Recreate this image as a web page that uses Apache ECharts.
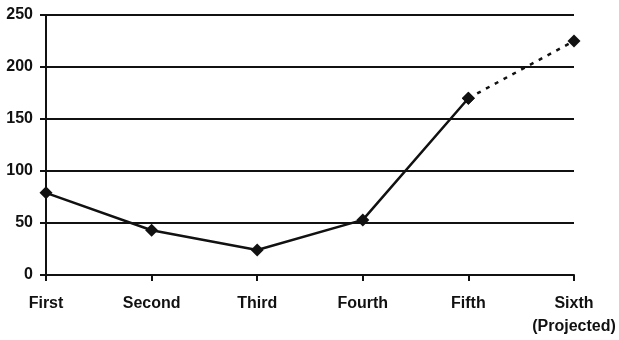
<!DOCTYPE html>
<html><head><meta charset="utf-8">
<script src="https://cdn.jsdelivr.net/npm/echarts@6/dist/echarts.min.js"></script>
<style>html,body{margin:0;padding:0;background:#fff}#c{width:619px;height:340px}</style>
</head><body><div id="c"></div>
<script>
const categories = ['First', 'Second', 'Third', 'Fourth', 'Fifth', 'Sixth\n(Projected)'];
const actualValues = [79, 43, 24, 53, 170, null];
const projectedValues = [null, null, null, null, 170, 225];
const yTicks = [0, 50, 100, 150, 200, 250];

const chart = echarts.init(document.getElementById('c'));
const font = {fontFamily: 'Liberation Sans', fontWeight: 'bold', fontSize: 16, color: '#111'};
chart.setOption({
  animation: false,
  grid: {left: 46, right: 45, top: 15, bottom: 65, containLabel: false},
  xAxis: {
    type: 'category', data: categories, boundaryGap: false,
    axisLine: {lineStyle: {color: '#111', width: 2}},
    axisTick: {show: true, length: 6, lineStyle: {color: '#111', width: 2}, alignWithLabel: true},
    axisLabel: Object.assign({margin: 17, lineHeight: 23, interval: 0}, font),
    splitLine: {show: false}
  },
  yAxis: {
    type: 'value', min: yTicks[0], max: yTicks[yTicks.length - 1], interval: 50,
    axisLine: {show: true, lineStyle: {color: '#111', width: 2}},
    axisTick: {show: true, length: 6, lineStyle: {color: '#111', width: 2}},
    axisLabel: Object.assign({margin: 13}, font),
    splitLine: {show: true, lineStyle: {color: '#111', width: 2}}
  },
  series: [
    {type: 'line', data: actualValues, symbol: 'diamond', symbolSize: 13,
     lineStyle: {color: '#111', width: 2.5}, itemStyle: {color: '#111'}, connectNulls: false},
    {type: 'line', data: projectedValues, symbol: 'diamond', symbolSize: 13,
     lineStyle: {color: '#111', width: 2.5, type: [4, 6]}, itemStyle: {color: '#111'}}
  ]
});
</script></body></html>
